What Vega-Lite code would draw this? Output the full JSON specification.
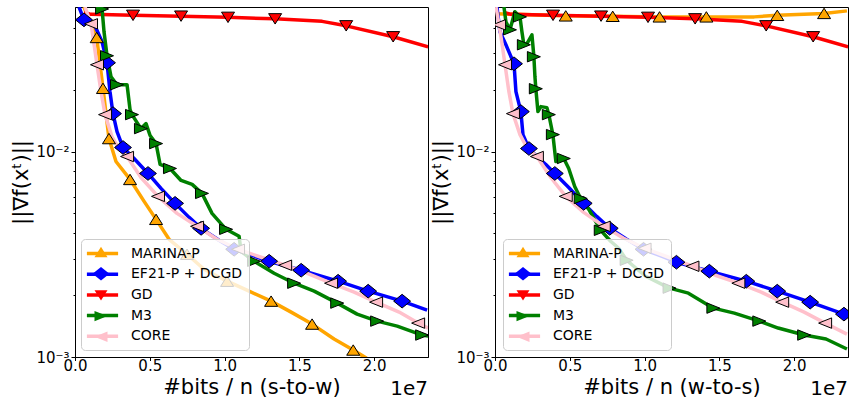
{
  "$schema": "https://vega.github.io/schema/vega-lite/v6.json",
  "padding": {"left": 10, "top": 6, "right": 1, "bottom": 0},
  "config": {
    "font": "DejaVu Sans",
    "view": {"stroke": "black", "strokeWidth": 1},
    "axis": {"grid": false, "domainColor": "black", "domainWidth": 1, "tickColor": "black", "tickWidth": 1, "labelColor": "black", "titleColor": "black", "labelFont": "DejaVu Sans", "titleFont": "DejaVu Sans", "titleFontWeight": "normal", "labelFontSize": 15, "titleFontSize": 21}
  },
  "data": {"values": [
    {"p":"s-to-w","m":"MARINA-P","x":600000,"y":0.0505,"k":0},
    {"p":"s-to-w","m":"MARINA-P","x":940000,"y":0.04373,"k":0},
    {"p":"s-to-w","m":"MARINA-P","x":1450000,"y":0.03589,"k":1},
    {"p":"s-to-w","m":"MARINA-P","x":1870000,"y":0.0203,"k":1},
    {"p":"s-to-w","m":"MARINA-P","x":2270000,"y":0.01156,"k":1},
    {"p":"s-to-w","m":"MARINA-P","x":2740000,"y":0.008943,"k":0},
    {"p":"s-to-w","m":"MARINA-P","x":3680000,"y":0.007313,"k":1},
    {"p":"s-to-w","m":"MARINA-P","x":4620000,"y":0.005719,"k":0},
    {"p":"s-to-w","m":"MARINA-P","x":5420000,"y":0.004676,"k":1},
    {"p":"s-to-w","m":"MARINA-P","x":6290000,"y":0.00374,"k":0},
    {"p":"s-to-w","m":"MARINA-P","x":7490000,"y":0.003162,"k":1},
    {"p":"s-to-w","m":"MARINA-P","x":8630000,"y":0.002675,"k":0},
    {"p":"s-to-w","m":"MARINA-P","x":10170000,"y":0.002338,"k":1},
    {"p":"s-to-w","m":"MARINA-P","x":11640000,"y":0.002091,"k":0},
    {"p":"s-to-w","m":"MARINA-P","x":13110000,"y":0.00187,"k":1},
    {"p":"s-to-w","m":"MARINA-P","x":14450000,"y":0.001654,"k":0},
    {"p":"s-to-w","m":"MARINA-P","x":15850000,"y":0.001446,"k":1},
    {"p":"s-to-w","m":"MARINA-P","x":17320000,"y":0.001223,"k":0},
    {"p":"s-to-w","m":"MARINA-P","x":18600000,"y":0.001081,"k":1},
    {"p":"s-to-w","m":"MARINA-P","x":19500000,"y":0.000985,"k":0},

    {"p":"s-to-w","m":"EF21-P + DCGD","x":270000,"y":0.0505,"k":0},
    {"p":"s-to-w","m":"EF21-P + DCGD","x":600000,"y":0.04373,"k":1},
    {"p":"s-to-w","m":"EF21-P + DCGD","x":1270000,"y":0.04182,"k":0},
    {"p":"s-to-w","m":"EF21-P + DCGD","x":1810000,"y":0.0342,"k":0},
    {"p":"s-to-w","m":"EF21-P + DCGD","x":2140000,"y":0.02704,"k":1},
    {"p":"s-to-w","m":"EF21-P + DCGD","x":2340000,"y":0.01956,"k":0},
    {"p":"s-to-w","m":"EF21-P + DCGD","x":2540000,"y":0.01529,"k":1},
    {"p":"s-to-w","m":"EF21-P + DCGD","x":2810000,"y":0.01251,"k":0},
    {"p":"s-to-w","m":"EF21-P + DCGD","x":3210000,"y":0.01046,"k":1},
    {"p":"s-to-w","m":"EF21-P + DCGD","x":3950000,"y":0.009247,"k":0},
    {"p":"s-to-w","m":"EF21-P + DCGD","x":4880000,"y":0.007819,"k":1},
    {"p":"s-to-w","m":"EF21-P + DCGD","x":5750000,"y":0.006613,"k":0},
    {"p":"s-to-w","m":"EF21-P + DCGD","x":6690000,"y":0.005593,"k":1},
    {"p":"s-to-w","m":"EF21-P + DCGD","x":7630000,"y":0.004781,"k":0},
    {"p":"s-to-w","m":"EF21-P + DCGD","x":8430000,"y":0.004228,"k":1},
    {"p":"s-to-w","m":"EF21-P + DCGD","x":9630000,"y":0.003698,"k":0},
    {"p":"s-to-w","m":"EF21-P + DCGD","x":10640000,"y":0.003344,"k":1},
    {"p":"s-to-w","m":"EF21-P + DCGD","x":12980000,"y":0.002924,"k":1},
    {"p":"s-to-w","m":"EF21-P + DCGD","x":15120000,"y":0.002644,"k":1},
    {"p":"s-to-w","m":"EF21-P + DCGD","x":17590000,"y":0.002338,"k":1},
    {"p":"s-to-w","m":"EF21-P + DCGD","x":19600000,"y":0.002091,"k":1},
    {"p":"s-to-w","m":"EF21-P + DCGD","x":21870000,"y":0.00187,"k":1},
    {"p":"s-to-w","m":"EF21-P + DCGD","x":23540000,"y":0.001692,"k":0},

    {"p":"s-to-w","m":"GD","x":600000,"y":0.0475,"k":0},
    {"p":"s-to-w","m":"GD","x":1070000,"y":0.04651,"k":0},
    {"p":"s-to-w","m":"GD","x":3880000,"y":0.046,"k":1},
    {"p":"s-to-w","m":"GD","x":7090000,"y":0.04558,"k":1},
    {"p":"s-to-w","m":"GD","x":10230000,"y":0.04497,"k":1},
    {"p":"s-to-w","m":"GD","x":13380000,"y":0.04422,"k":1},
    {"p":"s-to-w","m":"GD","x":16520000,"y":0.043,"k":0},
    {"p":"s-to-w","m":"GD","x":18130000,"y":0.04089,"k":1},
    {"p":"s-to-w","m":"GD","x":21270000,"y":0.03616,"k":1},
    {"p":"s-to-w","m":"GD","x":23610000,"y":0.03234,"k":0},

    {"p":"s-to-w","m":"M3","x":1810000,"y":0.0494,"k":1},
    {"p":"s-to-w","m":"M3","x":1940000,"y":0.03824,"k":0},
    {"p":"s-to-w","m":"M3","x":2140000,"y":0.02924,"k":1},
    {"p":"s-to-w","m":"M3","x":2410000,"y":0.02312,"k":0},
    {"p":"s-to-w","m":"M3","x":2810000,"y":0.02114,"k":1},
    {"p":"s-to-w","m":"M3","x":3480000,"y":0.02114,"k":0},
    {"p":"s-to-w","m":"M3","x":3680000,"y":0.01599,"k":0},
    {"p":"s-to-w","m":"M3","x":3810000,"y":0.01512,"k":1},
    {"p":"s-to-w","m":"M3","x":4410000,"y":0.01293,"k":1},
    {"p":"s-to-w","m":"M3","x":4750000,"y":0.01367,"k":0},
    {"p":"s-to-w","m":"M3","x":5020000,"y":0.01196,"k":0},
    {"p":"s-to-w","m":"M3","x":5420000,"y":0.01093,"k":1},
    {"p":"s-to-w","m":"M3","x":5690000,"y":0.00865,"k":0},
    {"p":"s-to-w","m":"M3","x":6350000,"y":0.00827,"k":1},
    {"p":"s-to-w","m":"M3","x":7090000,"y":0.007231,"k":0},
    {"p":"s-to-w","m":"M3","x":7830000,"y":0.006917,"k":0},
    {"p":"s-to-w","m":"M3","x":8490000,"y":0.006254,"k":1},
    {"p":"s-to-w","m":"M3","x":9160000,"y":0.005,"k":0},
    {"p":"s-to-w","m":"M3","x":10100000,"y":0.004182,"k":1},
    {"p":"s-to-w","m":"M3","x":10970000,"y":0.003867,"k":0},
    {"p":"s-to-w","m":"M3","x":11100000,"y":0.00327,"k":0},
    {"p":"s-to-w","m":"M3","x":11970000,"y":0.002924,"k":1},
    {"p":"s-to-w","m":"M3","x":13310000,"y":0.002557,"k":0},
    {"p":"s-to-w","m":"M3","x":14650000,"y":0.002286,"k":1},
    {"p":"s-to-w","m":"M3","x":15990000,"y":0.002091,"k":0},
    {"p":"s-to-w","m":"M3","x":17530000,"y":0.001829,"k":1},
    {"p":"s-to-w","m":"M3","x":18860000,"y":0.001617,"k":0},
    {"p":"s-to-w","m":"M3","x":20200000,"y":0.001495,"k":1},
    {"p":"s-to-w","m":"M3","x":21540000,"y":0.001414,"k":0},
    {"p":"s-to-w","m":"M3","x":23210000,"y":0.001279,"k":1},
    {"p":"s-to-w","m":"M3","x":23610000,"y":0.001264,"k":0},

    {"p":"s-to-w","m":"CORE","x":670000,"y":0.0505,"k":0},
    {"p":"s-to-w","m":"CORE","x":1070000,"y":0.04182,"k":1},
    {"p":"s-to-w","m":"CORE","x":1270000,"y":0.03344,"k":0},
    {"p":"s-to-w","m":"CORE","x":1470000,"y":0.02644,"k":1},
    {"p":"s-to-w","m":"CORE","x":1740000,"y":0.01956,"k":0},
    {"p":"s-to-w","m":"CORE","x":2010000,"y":0.01512,"k":1},
    {"p":"s-to-w","m":"CORE","x":2470000,"y":0.01182,"k":0},
    {"p":"s-to-w","m":"CORE","x":2940000,"y":0.01034,"k":0},
    {"p":"s-to-w","m":"CORE","x":3480000,"y":0.009456,"k":1},
    {"p":"s-to-w","m":"CORE","x":4410000,"y":0.007477,"k":0},
    {"p":"s-to-w","m":"CORE","x":5550000,"y":0.006049,"k":1},
    {"p":"s-to-w","m":"CORE","x":6820000,"y":0.005,"k":0},
    {"p":"s-to-w","m":"CORE","x":8160000,"y":0.004324,"k":1},
    {"p":"s-to-w","m":"CORE","x":9500000,"y":0.00374,"k":0},
    {"p":"s-to-w","m":"CORE","x":10900000,"y":0.003344,"k":1},
    {"p":"s-to-w","m":"CORE","x":12440000,"y":0.003058,"k":0},
    {"p":"s-to-w","m":"CORE","x":14050000,"y":0.002797,"k":1},
    {"p":"s-to-w","m":"CORE","x":15650000,"y":0.002529,"k":0},
    {"p":"s-to-w","m":"CORE","x":17120000,"y":0.002286,"k":1},
    {"p":"s-to-w","m":"CORE","x":18660000,"y":0.002068,"k":0},
    {"p":"s-to-w","m":"CORE","x":20130000,"y":0.001849,"k":1},
    {"p":"s-to-w","m":"CORE","x":21670000,"y":0.001654,"k":0},
    {"p":"s-to-w","m":"CORE","x":22940000,"y":0.001462,"k":1},
    {"p":"s-to-w","m":"CORE","x":23610000,"y":0.001383,"k":0},

    {"p":"w-to-s","m":"MARINA-P","x":130000,"y":0.0468,"k":0},
    {"p":"w-to-s","m":"MARINA-P","x":4730000,"y":0.04572,"k":1},
    {"p":"w-to-s","m":"MARINA-P","x":7870000,"y":0.0455,"k":1},
    {"p":"w-to-s","m":"MARINA-P","x":11000000,"y":0.04521,"k":1},
    {"p":"w-to-s","m":"MARINA-P","x":14130000,"y":0.04521,"k":1},
    {"p":"w-to-s","m":"MARINA-P","x":17330000,"y":0.04521,"k":0},
    {"p":"w-to-s","m":"MARINA-P","x":18870000,"y":0.046,"k":1},
    {"p":"w-to-s","m":"MARINA-P","x":22000000,"y":0.047,"k":1},
    {"p":"w-to-s","m":"MARINA-P","x":23530000,"y":0.04835,"k":0},

    {"p":"w-to-s","m":"EF21-P + DCGD","x":130000,"y":0.0505,"k":0},
    {"p":"w-to-s","m":"EF21-P + DCGD","x":330000,"y":0.03824,"k":0},
    {"p":"w-to-s","m":"EF21-P + DCGD","x":730000,"y":0.03307,"k":0},
    {"p":"w-to-s","m":"EF21-P + DCGD","x":1270000,"y":0.02674,"k":1},
    {"p":"w-to-s","m":"EF21-P + DCGD","x":1400000,"y":0.01956,"k":0},
    {"p":"w-to-s","m":"EF21-P + DCGD","x":1730000,"y":0.01564,"k":1},
    {"p":"w-to-s","m":"EF21-P + DCGD","x":1870000,"y":0.01209,"k":0},
    {"p":"w-to-s","m":"EF21-P + DCGD","x":2270000,"y":0.01034,"k":1},
    {"p":"w-to-s","m":"EF21-P + DCGD","x":2800000,"y":0.009456,"k":0},
    {"p":"w-to-s","m":"EF21-P + DCGD","x":3400000,"y":0.00865,"k":0},
    {"p":"w-to-s","m":"EF21-P + DCGD","x":4000000,"y":0.007819,"k":1},
    {"p":"w-to-s","m":"EF21-P + DCGD","x":4930000,"y":0.006686,"k":0},
    {"p":"w-to-s","m":"EF21-P + DCGD","x":5930000,"y":0.005593,"k":1},
    {"p":"w-to-s","m":"EF21-P + DCGD","x":6800000,"y":0.004835,"k":0},
    {"p":"w-to-s","m":"EF21-P + DCGD","x":7670000,"y":0.004228,"k":1},
    {"p":"w-to-s","m":"EF21-P + DCGD","x":8800000,"y":0.00374,"k":0},
    {"p":"w-to-s","m":"EF21-P + DCGD","x":9930000,"y":0.003344,"k":1},
    {"p":"w-to-s","m":"EF21-P + DCGD","x":11130000,"y":0.003093,"k":0},
    {"p":"w-to-s","m":"EF21-P + DCGD","x":12130000,"y":0.002892,"k":1},
    {"p":"w-to-s","m":"EF21-P + DCGD","x":14330000,"y":0.002616,"k":1},
    {"p":"w-to-s","m":"EF21-P + DCGD","x":16800000,"y":0.002338,"k":1},
    {"p":"w-to-s","m":"EF21-P + DCGD","x":18870000,"y":0.002091,"k":1},
    {"p":"w-to-s","m":"EF21-P + DCGD","x":21070000,"y":0.001849,"k":1},
    {"p":"w-to-s","m":"EF21-P + DCGD","x":23330000,"y":0.001617,"k":1},
    {"p":"w-to-s","m":"EF21-P + DCGD","x":23530000,"y":0.001599,"k":0},

    {"p":"w-to-s","m":"GD","x":600000,"y":0.0475,"k":0},
    {"p":"w-to-s","m":"GD","x":1070000,"y":0.04651,"k":0},
    {"p":"w-to-s","m":"GD","x":3880000,"y":0.046,"k":1},
    {"p":"w-to-s","m":"GD","x":7090000,"y":0.04558,"k":1},
    {"p":"w-to-s","m":"GD","x":10230000,"y":0.04497,"k":1},
    {"p":"w-to-s","m":"GD","x":13380000,"y":0.04422,"k":1},
    {"p":"w-to-s","m":"GD","x":16520000,"y":0.043,"k":0},
    {"p":"w-to-s","m":"GD","x":18130000,"y":0.04089,"k":1},
    {"p":"w-to-s","m":"GD","x":21270000,"y":0.03616,"k":1},
    {"p":"w-to-s","m":"GD","x":23610000,"y":0.03234,"k":0},

    {"p":"w-to-s","m":"M3","x":600000,"y":0.0505,"k":0},
    {"p":"w-to-s","m":"M3","x":730000,"y":0.04276,"k":0},
    {"p":"w-to-s","m":"M3","x":1000000,"y":0.03911,"k":1},
    {"p":"w-to-s","m":"M3","x":1330000,"y":0.0479,"k":0},
    {"p":"w-to-s","m":"M3","x":1670000,"y":0.04521,"k":1},
    {"p":"w-to-s","m":"M3","x":1800000,"y":0.03824,"k":0},
    {"p":"w-to-s","m":"M3","x":1930000,"y":0.03307,"k":1},
    {"p":"w-to-s","m":"M3","x":2130000,"y":0.03344,"k":0},
    {"p":"w-to-s","m":"M3","x":2470000,"y":0.03698,"k":0},
    {"p":"w-to-s","m":"M3","x":2600000,"y":0.02892,"k":1},
    {"p":"w-to-s","m":"M3","x":2670000,"y":0.02312,"k":0},
    {"p":"w-to-s","m":"M3","x":2730000,"y":0.02021,"k":1},
    {"p":"w-to-s","m":"M3","x":2870000,"y":0.01564,"k":0},
    {"p":"w-to-s","m":"M3","x":3070000,"y":0.01654,"k":0},
    {"p":"w-to-s","m":"M3","x":3470000,"y":0.01635,"k":0},
    {"p":"w-to-s","m":"M3","x":3600000,"y":0.01512,"k":1},
    {"p":"w-to-s","m":"M3","x":3870000,"y":0.01209,"k":1},
    {"p":"w-to-s","m":"M3","x":4070000,"y":0.008943,"k":0},
    {"p":"w-to-s","m":"M3","x":4600000,"y":0.009247,"k":1},
    {"p":"w-to-s","m":"M3","x":4930000,"y":0.00827,"k":0},
    {"p":"w-to-s","m":"M3","x":5330000,"y":0.006761,"k":0},
    {"p":"w-to-s","m":"M3","x":5730000,"y":0.00591,"k":1},
    {"p":"w-to-s","m":"M3","x":6270000,"y":0.005229,"k":0},
    {"p":"w-to-s","m":"M3","x":7070000,"y":0.004135,"k":1},
    {"p":"w-to-s","m":"M3","x":7730000,"y":0.003657,"k":0},
    {"p":"w-to-s","m":"M3","x":8270000,"y":0.003381,"k":0},
    {"p":"w-to-s","m":"M3","x":8800000,"y":0.002957,"k":1},
    {"p":"w-to-s","m":"M3","x":10070000,"y":0.002472,"k":0},
    {"p":"w-to-s","m":"M3","x":11670000,"y":0.002163,"k":1},
    {"p":"w-to-s","m":"M3","x":12930000,"y":0.002045,"k":0},
    {"p":"w-to-s","m":"M3","x":14600000,"y":0.001729,"k":1},
    {"p":"w-to-s","m":"M3","x":16000000,"y":0.001635,"k":0},
    {"p":"w-to-s","m":"M3","x":17670000,"y":0.001495,"k":1},
    {"p":"w-to-s","m":"M3","x":18930000,"y":0.001383,"k":0},
    {"p":"w-to-s","m":"M3","x":20670000,"y":0.001279,"k":1},
    {"p":"w-to-s","m":"M3","x":22130000,"y":0.001223,"k":0},
    {"p":"w-to-s","m":"M3","x":23530000,"y":0.001094,"k":0},

    {"p":"w-to-s","m":"CORE","x":70000,"y":0.0505,"k":0},
    {"p":"w-to-s","m":"CORE","x":270000,"y":0.04135,"k":1},
    {"p":"w-to-s","m":"CORE","x":470000,"y":0.03344,"k":0},
    {"p":"w-to-s","m":"CORE","x":670000,"y":0.02644,"k":1},
    {"p":"w-to-s","m":"CORE","x":930000,"y":0.01956,"k":0},
    {"p":"w-to-s","m":"CORE","x":1200000,"y":0.01529,"k":1},
    {"p":"w-to-s","m":"CORE","x":1670000,"y":0.01209,"k":0},
    {"p":"w-to-s","m":"CORE","x":2130000,"y":0.01046,"k":0},
    {"p":"w-to-s","m":"CORE","x":2800000,"y":0.009456,"k":1},
    {"p":"w-to-s","m":"CORE","x":3730000,"y":0.007477,"k":0},
    {"p":"w-to-s","m":"CORE","x":4730000,"y":0.006049,"k":1},
    {"p":"w-to-s","m":"CORE","x":5930000,"y":0.005057,"k":0},
    {"p":"w-to-s","m":"CORE","x":7270000,"y":0.004324,"k":1},
    {"p":"w-to-s","m":"CORE","x":8600000,"y":0.003782,"k":0},
    {"p":"w-to-s","m":"CORE","x":10000000,"y":0.003381,"k":1},
    {"p":"w-to-s","m":"CORE","x":11600000,"y":0.003058,"k":0},
    {"p":"w-to-s","m":"CORE","x":13200000,"y":0.002765,"k":1},
    {"p":"w-to-s","m":"CORE","x":14730000,"y":0.0025,"k":0},
    {"p":"w-to-s","m":"CORE","x":16270000,"y":0.002286,"k":1},
    {"p":"w-to-s","m":"CORE","x":17800000,"y":0.002068,"k":0},
    {"p":"w-to-s","m":"CORE","x":19200000,"y":0.001849,"k":1},
    {"p":"w-to-s","m":"CORE","x":20670000,"y":0.001654,"k":0},
    {"p":"w-to-s","m":"CORE","x":22070000,"y":0.001462,"k":1},
    {"p":"w-to-s","m":"CORE","x":23530000,"y":0.001293,"k":0}
  ]},
  "spacing": 1,
  "resolve": {
    "scale": {"stroke": "independent", "color": "independent", "shape": "independent"},
    "legend": {"stroke": "independent", "color": "independent", "shape": "independent"}
  },
  "hconcat": [
    {
      "width": 353, "height": 350,
      "transform": [{"filter": "datum.p == 's-to-w'"}],
      "title": {"text": "1e7", "orient": "bottom", "anchor": "end", "frame": "group", "offset": -18, "fontSize": 20, "fontWeight": "normal", "font": "DejaVu Sans", "color": "black"},
      "layer": [
        {
          "mark": {"type": "line", "strokeWidth": 3.5, "strokeJoin": "round", "clip": true},
          "encoding": {
            "x": {"field": "x", "type": "quantitative", "scale": {"domain": [0, 23600000], "nice": false, "zero": false},
              "axis": {"title": "#bits / n (s-to-w)", "values": [0, 5000000, 10000000, 15000000, 20000000], "labelExpr": "format(datum.value/1e7, '.1f')", "tickSize": 3.5, "labelPadding": -2.5, "titlePadding": 3, "labelFlush": false}},
            "y": {"field": "y", "type": "quantitative", "scale": {"type": "log", "domain": [0.001, 0.0505], "nice": false},
              "axis": {"title": "||∇f(xᵗ)||", "values": [0.001, 0.002, 0.003, 0.004, 0.005, 0.006, 0.007, 0.008, 0.009, 0.01, 0.02, 0.03, 0.04], "labelExpr": "datum.value == 0.01 ? '10⁻²' : (datum.value == 0.001 ? '10⁻³' : '')", "tickSize": {"condition": {"test": "datum.value == 0.01 || datum.value == 0.001", "value": 4}, "value": 2}, "labelPadding": 2, "titlePadding": 4, "labelOverlap": false}},
            "stroke": {"field": "m", "type": "nominal", "sort": ["MARINA-P", "EF21-P + DCGD", "GD", "M3", "CORE"],
              "scale": {"range": ["#FFA500", "#0000FF", "#FF0000", "#008000", "#FFC0CB"]},
              "legend": {"orient": "none", "legendX": 6, "legendY": 232, "title": null, "direction": "vertical", "symbolType": "M-2.4,0H2.4", "symbolSize": 169, "symbolStrokeWidth": 3.5, "symbolOffset": 7, "labelOffset": 20, "labelFontSize": 14, "labelFont": "DejaVu Sans", "labelColor": "black", "padding": 6, "rowPadding": 4.7, "fillColor": "rgba(255,255,255,0.8)", "strokeColor": "#cccccc", "cornerRadius": 4, "zindex": 1}}
          }
        },
        {
          "transform": [{"filter": "datum.k == 1"}],
          "mark": {"type": "point", "filled": true, "size": 169, "opacity": 1, "stroke": "black", "strokeWidth": 1, "clip": true},
          "encoding": {
            "x": {"field": "x", "type": "quantitative"},
            "y": {"field": "y", "type": "quantitative"},
            "color": {"field": "m", "type": "nominal", "scale": {"domain": ["MARINA-P", "EF21-P + DCGD", "GD", "M3", "CORE"], "range": ["#FFA500", "#0000FF", "#FF0000", "#008000", "#FFC0CB"]},
              "legend": {"orient": "none", "legendX": 6, "legendY": 232, "title": null, "direction": "vertical", "symbolSize": 169, "symbolStrokeColor": "black", "symbolStrokeWidth": 1, "symbolOpacity": 1, "symbolOffset": 7, "labelOffset": 20, "labelFontSize": 14, "labelFont": "DejaVu Sans", "labelColor": "transparent", "labelExpr": "' '", "padding": 6, "rowPadding": 4.7, "zindex": 2}},
            "shape": {"field": "m", "type": "nominal", "scale": {"domain": ["MARINA-P", "EF21-P + DCGD", "GD", "M3", "CORE"], "range": ["M0,-0.8L1,0.8L-1,0.8Z", "M0,-1.05L1.3,0L0,1.05L-1.3,0Z", "M0,0.8L1,-0.8L-1,-0.8Z", "M1,0L-1,0.8L-1,-0.8Z", "M-1,0L1,-0.8L1,0.8Z"]},
              "legend": {"orient": "none", "legendX": 6, "legendY": 232, "title": null, "direction": "vertical", "symbolSize": 169, "symbolStrokeColor": "black", "symbolStrokeWidth": 1, "symbolOpacity": 1, "symbolOffset": 7, "labelOffset": 20, "labelFontSize": 14, "labelFont": "DejaVu Sans", "labelColor": "transparent", "labelExpr": "' '", "padding": 6, "rowPadding": 4.7, "zindex": 2}}
          }
        }
      ]
    },
    {
      "width": 353, "height": 350,
      "transform": [{"filter": "datum.p == 'w-to-s'"}],
      "title": {"text": "1e7", "orient": "bottom", "anchor": "end", "frame": "group", "offset": -18, "fontSize": 20, "fontWeight": "normal", "font": "DejaVu Sans", "color": "black"},
      "layer": [
        {
          "mark": {"type": "line", "strokeWidth": 3.5, "strokeJoin": "round", "clip": true},
          "encoding": {
            "x": {"field": "x", "type": "quantitative", "scale": {"domain": [0, 23600000], "nice": false, "zero": false},
              "axis": {"title": "#bits / n (w-to-s)", "values": [0, 5000000, 10000000, 15000000, 20000000], "labelExpr": "format(datum.value/1e7, '.1f')", "tickSize": 3.5, "labelPadding": -2.5, "titlePadding": 3, "labelFlush": false}},
            "y": {"field": "y", "type": "quantitative", "scale": {"type": "log", "domain": [0.001, 0.0505], "nice": false},
              "axis": {"title": "||∇f(xᵗ)||", "values": [0.001, 0.002, 0.003, 0.004, 0.005, 0.006, 0.007, 0.008, 0.009, 0.01, 0.02, 0.03, 0.04], "labelExpr": "datum.value == 0.01 ? '10⁻²' : (datum.value == 0.001 ? '10⁻³' : '')", "tickSize": {"condition": {"test": "datum.value == 0.01 || datum.value == 0.001", "value": 4}, "value": 2}, "labelPadding": 2, "titlePadding": 4, "labelOverlap": false}},
            "stroke": {"field": "m", "type": "nominal", "sort": ["MARINA-P", "EF21-P + DCGD", "GD", "M3", "CORE"],
              "scale": {"range": ["#FFA500", "#0000FF", "#FF0000", "#008000", "#FFC0CB"]},
              "legend": {"orient": "none", "legendX": 8, "legendY": 232, "title": null, "direction": "vertical", "symbolType": "M-2.4,0H2.4", "symbolSize": 169, "symbolStrokeWidth": 3.5, "symbolOffset": 7, "labelOffset": 20, "labelFontSize": 14, "labelFont": "DejaVu Sans", "labelColor": "black", "padding": 6, "rowPadding": 4.7, "fillColor": "rgba(255,255,255,0.8)", "strokeColor": "#cccccc", "cornerRadius": 4, "zindex": 1}}
          }
        },
        {
          "transform": [{"filter": "datum.k == 1"}],
          "mark": {"type": "point", "filled": true, "size": 169, "opacity": 1, "stroke": "black", "strokeWidth": 1, "clip": true},
          "encoding": {
            "x": {"field": "x", "type": "quantitative"},
            "y": {"field": "y", "type": "quantitative"},
            "color": {"field": "m", "type": "nominal", "scale": {"domain": ["MARINA-P", "EF21-P + DCGD", "GD", "M3", "CORE"], "range": ["#FFA500", "#0000FF", "#FF0000", "#008000", "#FFC0CB"]},
              "legend": {"orient": "none", "legendX": 8, "legendY": 232, "title": null, "direction": "vertical", "symbolSize": 169, "symbolStrokeColor": "black", "symbolStrokeWidth": 1, "symbolOpacity": 1, "symbolOffset": 7, "labelOffset": 20, "labelFontSize": 14, "labelFont": "DejaVu Sans", "labelColor": "transparent", "labelExpr": "' '", "padding": 6, "rowPadding": 4.7, "zindex": 2}},
            "shape": {"field": "m", "type": "nominal", "scale": {"domain": ["MARINA-P", "EF21-P + DCGD", "GD", "M3", "CORE"], "range": ["M0,-0.8L1,0.8L-1,0.8Z", "M0,-1.05L1.3,0L0,1.05L-1.3,0Z", "M0,0.8L1,-0.8L-1,-0.8Z", "M1,0L-1,0.8L-1,-0.8Z", "M-1,0L1,-0.8L1,0.8Z"]},
              "legend": {"orient": "none", "legendX": 8, "legendY": 232, "title": null, "direction": "vertical", "symbolSize": 169, "symbolStrokeColor": "black", "symbolStrokeWidth": 1, "symbolOpacity": 1, "symbolOffset": 7, "labelOffset": 20, "labelFontSize": 14, "labelFont": "DejaVu Sans", "labelColor": "transparent", "labelExpr": "' '", "padding": 6, "rowPadding": 4.7, "zindex": 2}}
          }
        }
      ]
    }
  ]
}
